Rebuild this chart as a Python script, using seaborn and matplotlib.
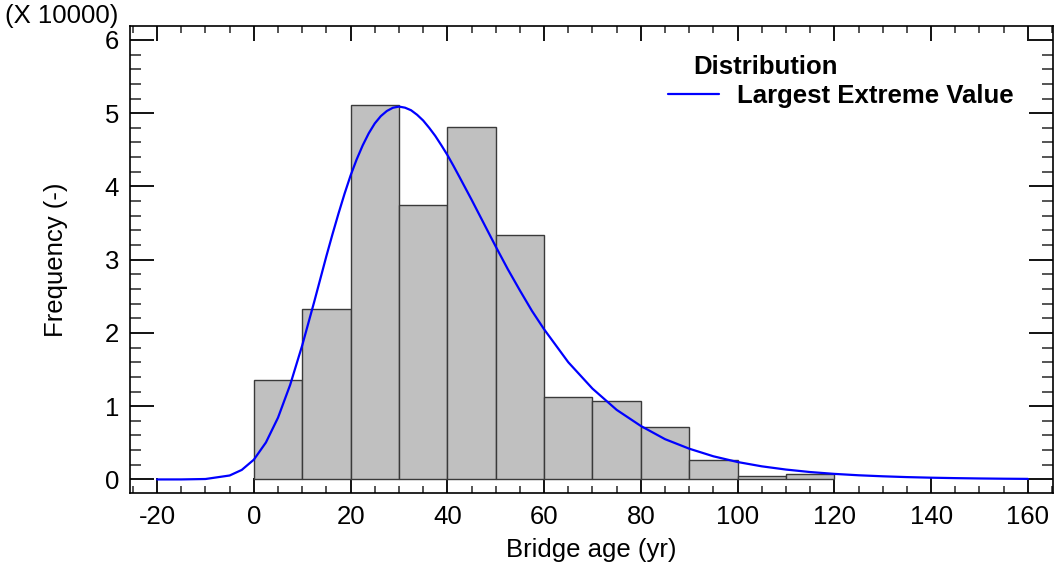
import numpy as np
import pandas as pd
import matplotlib
matplotlib.use("Agg")
import matplotlib.pyplot as plt
import seaborn as sns
from matplotlib.ticker import MultipleLocator

# ---- data (frequency in units of 10000) ----
bin_edges = [0, 10, 20, 30, 40, 50, 60, 70, 80, 90, 100, 110, 120]
bin_heights = [1.36, 2.32, 5.11, 3.74, 4.81, 3.34, 1.12, 1.07, 0.71, 0.26, 0.045, 0.068]

curve_x = [-20, -15, -10, -5, -2.5, 0, 2.5, 5, 7.5, 10, 12.5, 15, 16.25, 17.5, 18.75,
           20, 21.25, 22.5, 23.75, 25, 26.25, 27.5, 28.75, 30, 31.25, 32.5, 33.75,
           35, 36.25, 37.5, 38.75, 40, 41.25, 42.5, 45, 47.5, 50, 52.5, 55, 57.5, 60,
           65, 70, 75, 80, 85, 90, 95, 100, 105, 110, 115, 120, 125, 130, 135,
           140, 145, 150, 155, 160]
curve_y = [0.0, 0.0003, 0.006, 0.054, 0.13, 0.27, 0.505, 0.844, 1.29, 1.83, 2.43, 3.05,
           3.346, 3.63, 3.90, 4.15, 4.368, 4.56, 4.725, 4.86, 4.96, 5.03, 5.074, 5.09,
           5.075, 5.04, 4.978, 4.90, 4.80, 4.69, 4.563, 4.43, 4.283, 4.13, 3.82, 3.50,
           3.18, 2.87, 2.58, 2.30, 2.05, 1.60, 1.24, 0.95, 0.73, 0.55, 0.42, 0.316,
           0.238, 0.179, 0.135, 0.101, 0.076, 0.057, 0.043, 0.032, 0.024, 0.018,
           0.0134, 0.010, 0.0076]

x_label = "Bridge age (yr)"
y_label = "Frequency (-)"
legend_title = "Distribution"
legend_entry = "Largest Extreme Value"
scale_text = "(X 10000)"

sns.set_theme(style="ticks")
plt.rcParams['font.family'] = ['Liberation Sans', 'DejaVu Sans']
plt.rcParams['axes.unicode_minus'] = False
plt.rcParams['text.color'] = 'black'
plt.rcParams['axes.labelcolor'] = 'black'

FS = 18.5

fig = plt.figure(figsize=(10.54, 5.64), dpi=100)
ax = fig.add_axes([130/1054, 1 - 493/564, (1053-130)/1054, (493-26)/564])

centers = [(a + b) / 2 for a, b in zip(bin_edges[:-1], bin_edges[1:])]
hist_df = pd.DataFrame({"age": centers, "freq": bin_heights})
sns.histplot(data=hist_df, x="age", weights="freq", bins=bin_edges, ax=ax,
             color="#C0C0C0", alpha=1.0, edgecolor="#3a3a3a", linewidth=1.0)

curve_df = pd.DataFrame({"age": curve_x, "freq": curve_y})
sns.lineplot(data=curve_df, x="age", y="freq", ax=ax, color="#0000FF",
             linewidth=1.6, label=legend_entry)

ax.set_xlim(-25.6, 165.2)
ax.set_ylim(-0.185, 6.19)
ax.xaxis.set_major_locator(MultipleLocator(20))
ax.xaxis.set_minor_locator(MultipleLocator(5))
ax.yaxis.set_major_locator(MultipleLocator(1))
ax.yaxis.set_minor_locator(MultipleLocator(0.2))

for s in ax.spines.values():
    s.set_visible(True)
    s.set_color("black")
    s.set_linewidth(1.2)

ax.tick_params(axis="x", which="major", direction="in", length=11, width=1.3,
               top=True, bottom=True, labelsize=FS, pad=9, colors="black")
ax.tick_params(axis="x", which="minor", direction="in", length=5, width=1.1,
               top=True, bottom=True)
ax.tick_params(axis="y", which="major", direction="in", length=17, width=1.3,
               left=True, right=True, labelsize=FS, pad=8, colors="black")
ax.tick_params(axis="y", which="minor", direction="in", length=8, width=1.1,
               left=True, right=True)

ax.set_xlabel(x_label, fontsize=FS, labelpad=6)
ax.set_ylabel(y_label, fontsize=FS, labelpad=26)

fig.text(5/1054, 1 - 16/564, scale_text, fontsize=FS, ha="left", va="center")

leg = ax.legend(loc="center left", bbox_to_anchor=((668-130)/923, (493-96)/467),
                frameon=False, fontsize=FS, handlelength=2.0, handletextpad=0.7,
                borderaxespad=0.0, borderpad=0.0)
for t in leg.get_texts():
    t.set_fontweight("bold")
ax.text((693-130)/923, (493-67)/467, legend_title, transform=ax.transAxes,
        fontsize=FS, fontweight="bold", ha="left", va="center")

fig.savefig("out.png", dpi=100)
